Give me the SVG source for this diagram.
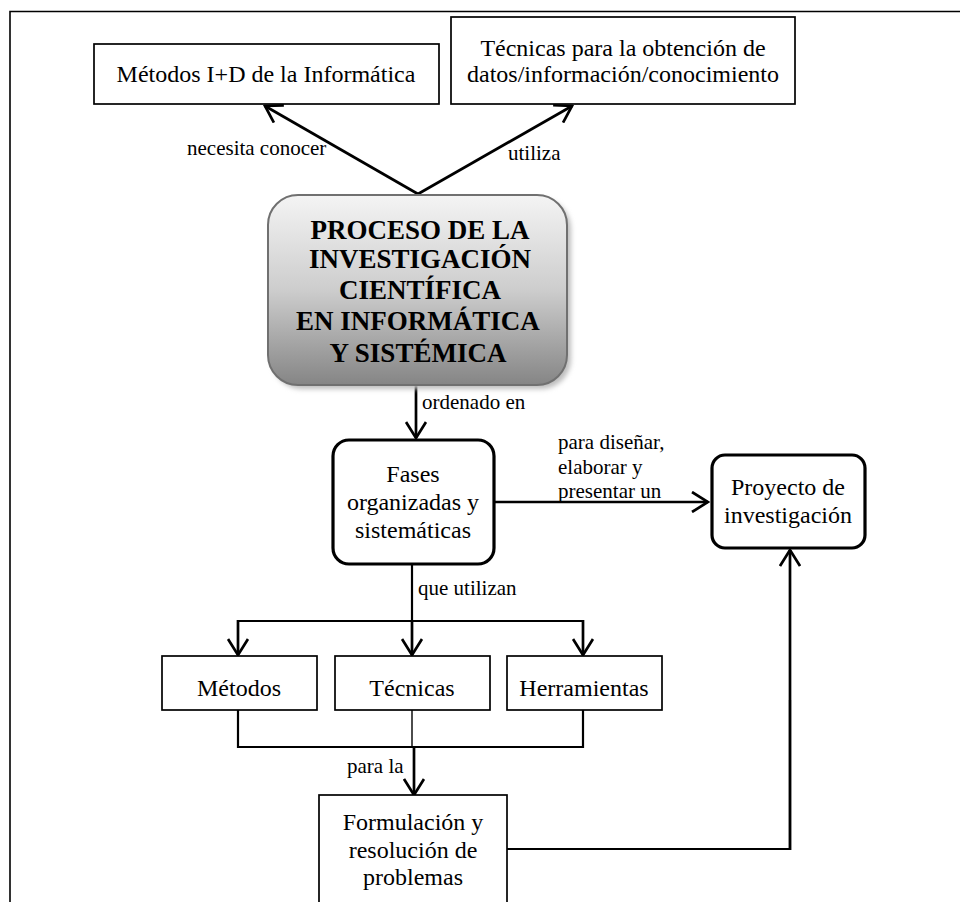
<svg xmlns="http://www.w3.org/2000/svg" width="960" height="902" viewBox="0 0 960 902">
<style>
  .node text, text { font-family: "Liberation Serif", "Times New Roman", serif; fill: #000; }
  .t { font-size: 24px; text-anchor: middle; }
  .lbl { font-size: 21px; }
  .main { font-size: 27px; font-weight: bold; text-anchor: middle; }
  .box { fill: #fff; stroke: #000; stroke-width: 1.7; }
  .rbox { fill: #fff; stroke: #000; stroke-width: 3.2; }
  .arr { fill: none; stroke: #000; stroke-width: 2.7; marker-end: url(#ah); }
  .ln { fill: none; stroke: #000; stroke-width: 2.2; }
  .thin { fill: none; stroke: #000; stroke-width: 1.4; }
</style>
<defs>
  <marker id="ah" viewBox="0 0 20 22" refX="18" refY="11" markerWidth="20" markerHeight="22" markerUnits="userSpaceOnUse" orient="auto">
    <path d="M2,1 L18,11 L2,21" fill="none" stroke="#000" stroke-width="2.7" stroke-linejoin="miter"/>
  </marker>
  <linearGradient id="g" x1="0" y1="0" x2="0" y2="1">
    <stop offset="0" stop-color="#f4f4f4"/>
    <stop offset="0.5" stop-color="#cdcdcd"/>
    <stop offset="1" stop-color="#858585"/>
  </linearGradient>
  <filter id="sh" x="-10%" y="-10%" width="130%" height="130%">
    <feGaussianBlur stdDeviation="2.5"/>
  </filter>
</defs>
<rect width="960" height="902" fill="#fff"/>
<path d="M10,902 V11.5 H960" fill="none" stroke="#000" stroke-width="1.6"/>

<g id="connectors">
  <path class="arr" d="M418,194 L265,106"/>
  <path class="arr" d="M418,194 L572,106"/>
  <path class="arr" d="M416,386 V438"/>
  <path class="arr" d="M495,502 H708"/>
  <path class="ln" d="M412,565 V621"/>
  <path class="ln" d="M238,621 H583"/>
  <path class="arr" d="M238,620 V655"/>
  <path class="arr" d="M412,620 V655"/>
  <path class="arr" d="M583,620 V655"/>
  <path class="ln" d="M238,710 V747 H583 V710"/>
  <path class="thin" d="M412,710 V747"/>
  <path class="arr" d="M414,746 V795"/>
  <path class="ln" d="M507,849 H790 V700"/>
  <path class="arr" d="M790,850 V550"/>
  <text class="lbl" x="187" y="155">necesita conocer</text>
  <text class="lbl" x="508" y="160">utiliza</text>
  <text class="lbl" x="422" y="409">ordenado en</text>
  <text class="lbl" x="558" y="449">para diseñar,</text>
  <text class="lbl" x="558" y="474">elaborar y</text>
  <text class="lbl" x="558" y="498">presentar un</text>
  <text class="lbl" x="418" y="595">que utilizan</text>
  <text class="lbl" x="347" y="773">para la</text>
</g>

<g id="n-metodos-id" class="node">
  <rect class="box" x="94" y="44" width="345" height="60"/>
  <text class="t" x="266" y="82">Métodos I+D de la Informática</text>
</g>
<g id="n-tecnicas-datos" class="node">
  <rect class="box" x="451" y="17" width="344" height="87"/>
  <text class="t" x="623" y="56">Técnicas para la obtención de</text>
  <text class="t" x="623" y="82">datos/información/conocimiento</text>
</g>
<g id="n-proceso" class="node">
  <rect x="272" y="199" width="299" height="190" rx="30" fill="#bdbdbd" filter="url(#sh)"/>
  <rect x="268" y="195" width="299" height="190" rx="30" fill="url(#g)" stroke="#707070" stroke-width="2"/>
  <text class="main" x="420" y="239">PROCESO DE LA</text>
  <text class="main" x="420" y="268">INVESTIGACIÓN</text>
  <text class="main" x="420" y="299">CIENTÍFICA</text>
  <text class="main" x="418" y="330">EN INFORMÁTICA</text>
  <text class="main" x="418" y="362">Y SISTÉMICA</text>
</g>
<g id="n-fases" class="node">
  <rect class="rbox" x="333" y="440" width="161" height="124" rx="16"/>
  <text class="t" x="413" y="482">Fases</text>
  <text class="t" x="413" y="510">organizadas y</text>
  <text class="t" x="413" y="538">sistemáticas</text>
</g>
<g id="n-proyecto" class="node">
  <rect class="rbox" x="712" y="455" width="153" height="93" rx="13"/>
  <text class="t" x="788" y="495">Proyecto de</text>
  <text class="t" x="788" y="523">investigación</text>
</g>
<g id="n-metodos" class="node">
  <rect class="box" x="162" y="656" width="155" height="54"/>
  <text class="t" x="239" y="696">Métodos</text>
</g>
<g id="n-tecnicas" class="node">
  <rect class="box" x="335" y="656" width="155" height="54"/>
  <text class="t" x="412" y="696">Técnicas</text>
</g>
<g id="n-herramientas" class="node">
  <rect class="box" x="507" y="656" width="155" height="54"/>
  <text class="t" x="584" y="696">Herramientas</text>
</g>
<g id="n-formulacion" class="node">
  <rect class="box" x="319" y="795" width="188" height="130"/>
  <text class="t" x="413" y="830">Formulación y</text>
  <text class="t" x="413" y="858">resolución de</text>
  <text class="t" x="413" y="885">problemas</text>
</g>
</svg>
